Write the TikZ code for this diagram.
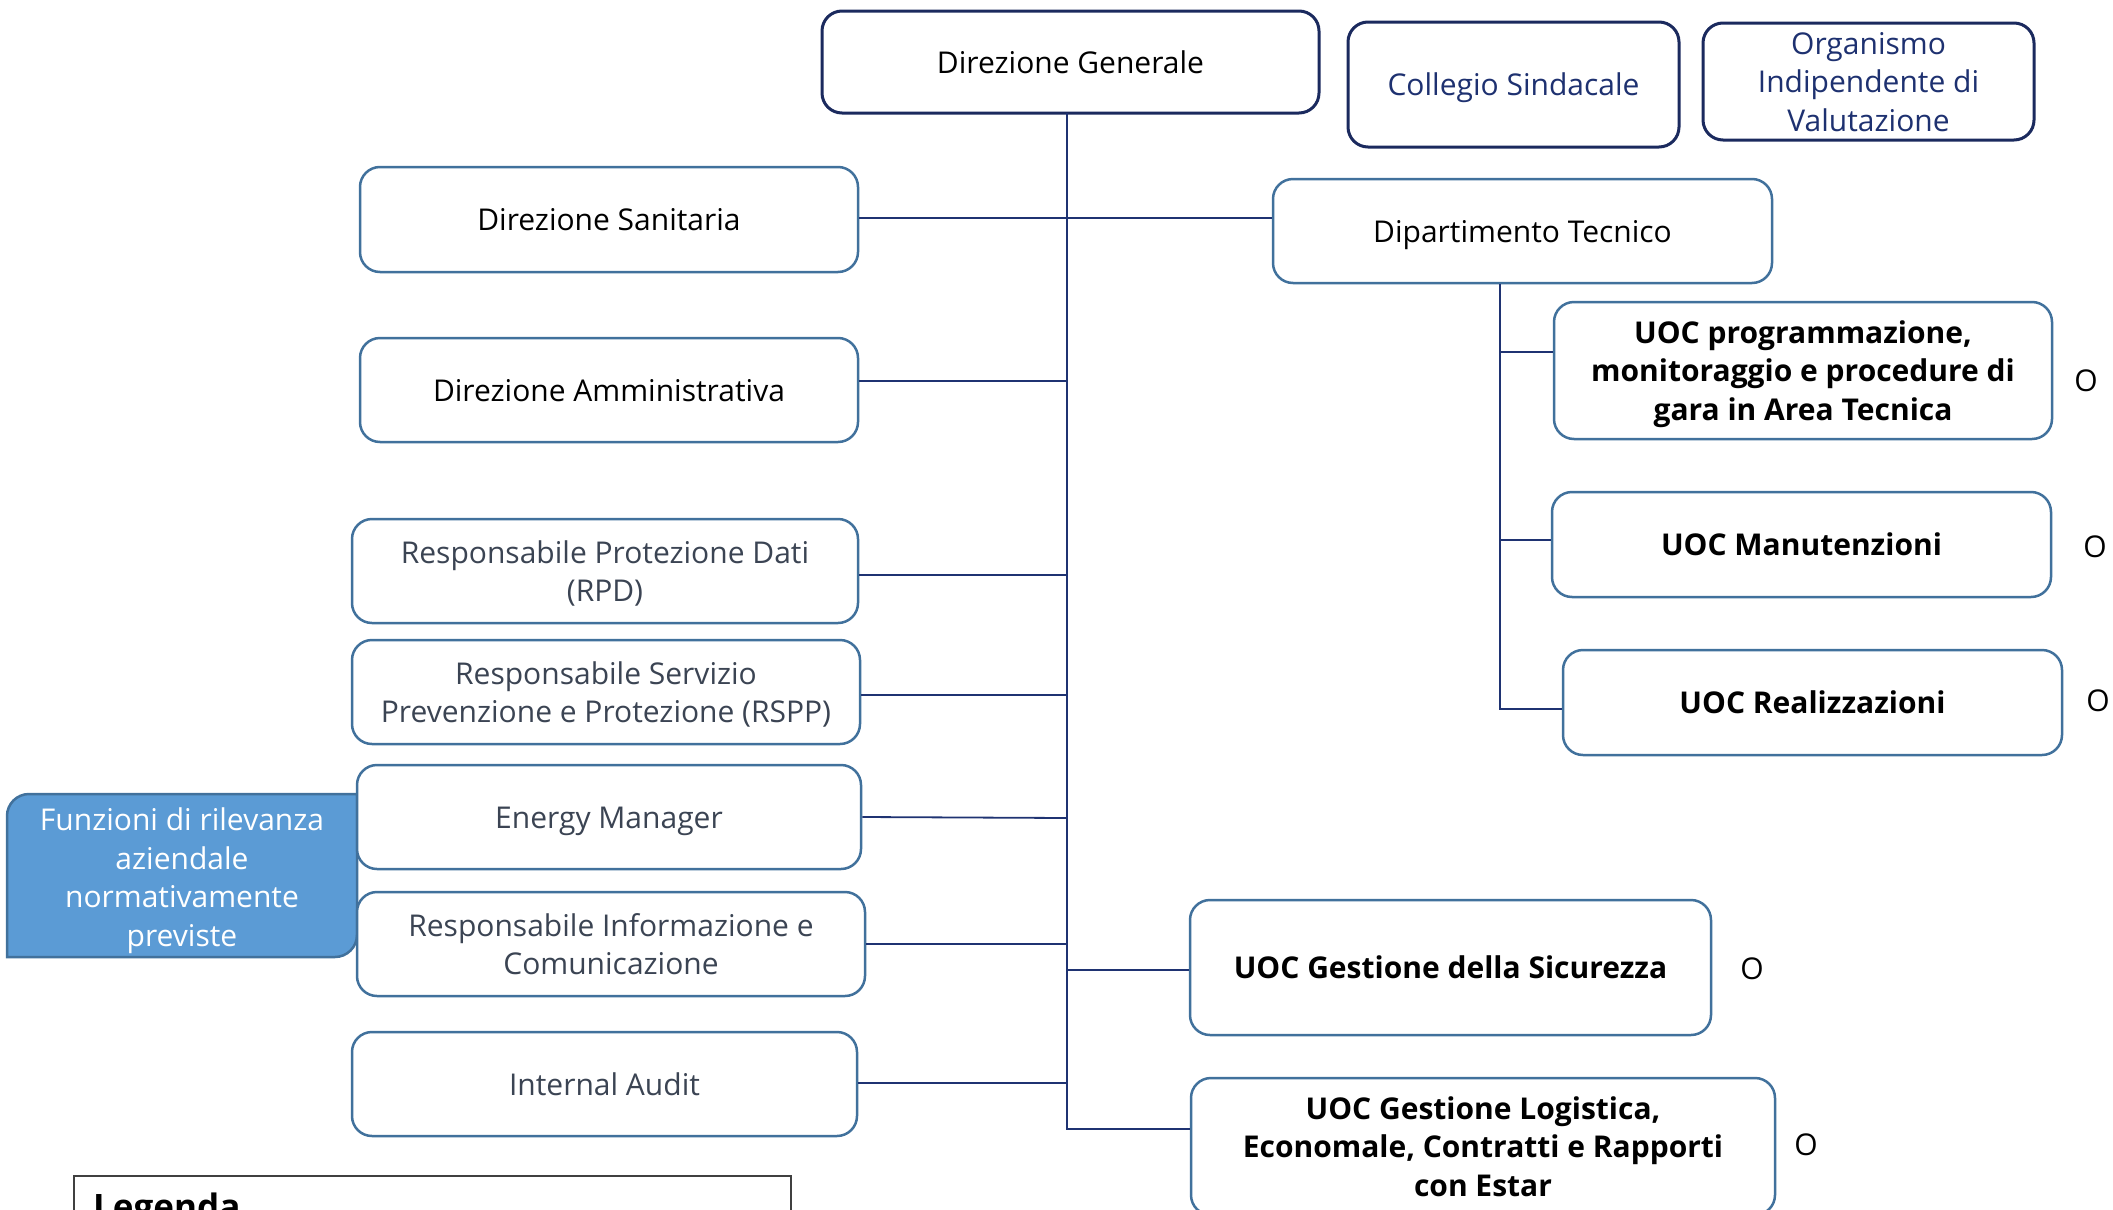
\documentclass[tikz,border=0pt]{standalone}
\usepackage{fontspec}
\setmainfont{Open Sans}
\definecolor{navyb}{HTML}{1B2A5E}
\definecolor{navyt}{HTML}{1E3170}
\definecolor{steel}{HTML}{41719C}
\definecolor{accent}{HTML}{5B9BD5}
\definecolor{slate}{HTML}{3B4453}
\definecolor{conn}{HTML}{1F3372}
\definecolor{leggray}{HTML}{404040}
\begin{document}
\begin{tikzpicture}[x=1pt,y=-1pt,
  base/.style={rectangle, rounded corners=20pt, inner sep=0pt, align=center,
    font=\fontsize{30}{38.5}\selectfont, fill=white, text depth=0pt},
  one/.style={text height=22pt},
  topbox/.style={base, draw=navyb, line width=3pt},
  midbox/.style={base, draw=steel, line width=2.5pt},
  uocbox/.style={midbox, font=\fontsize{30}{38.5}\selectfont\bfseries},
  greytext/.style={text=slate},
  omark/.style={font=\fontsize{30}{38.5}\selectfont, inner sep=0pt},
  link/.style={draw=conn, line width=1.8pt},
]
\useasboundingbox (0,0) rectangle (2113,1210);

% functions box (behind)
\path[fill=accent, draw=steel, line width=2.5pt]
  (7,957) -- (7,816) .. controls (7,803.9) and (16.9,794) .. (29,794)
  -- (357,794) -- (357,935) .. controls (357,947.1) and (347.1,957) .. (335,957) -- cycle;
\node[align=center, text=white, font=\fontsize{30}{38.5}\selectfont, inner sep=0pt, text depth=0pt] (FZ) at (182,877)
  {Funzioni di rilevanza\\aziendale\\normativamente\\previste};

% top
\node[topbox, one, minimum width=497pt, minimum height=102pt] (DG) at (1070.5,62) {Direzione Generale};
\node[topbox, one, text=navyt, minimum width=331pt, minimum height=125pt] (CS) at (1513.5,84.5) {Collegio Sindacale};
\node[topbox, text=navyt, minimum width=331pt, minimum height=117pt] (OIV) at (1868.5,81.5) {Organismo\\Indipendente di\\Valutazione};

% left column
\node[midbox, one, minimum width=498pt, minimum height=105pt] (DS) at (609,219.5) {Direzione Sanitaria};
\node[midbox, one, minimum width=498pt, minimum height=104pt] (DA) at (609,390) {Direzione Amministrativa};
\node[midbox, greytext, minimum width=506pt, minimum height=104pt] (RPD) at (605,571) {Responsabile Protezione Dati\\(RPD)};
\node[midbox, greytext, minimum width=508pt, minimum height=104pt] (RSPP) at (606,692) {Responsabile Servizio\\Prevenzione e Protezione (RSPP)};
\node[midbox, one, greytext, minimum width=504pt, minimum height=104pt] (EM) at (609,817) {Energy Manager};
\node[midbox, greytext, minimum width=508pt, minimum height=104pt] (RIC) at (611,944) {Responsabile Informazione e\\Comunicazione};
\node[midbox, one, greytext, minimum width=505pt, minimum height=104pt] (IA) at (604.5,1084) {Internal Audit};

% right
\node[midbox, one, minimum width=499pt, minimum height=104pt] (DT) at (1522.5,231) {Dipartimento Tecnico};
\node[uocbox, minimum width=498pt, minimum height=137pt] (UP) at (1803,370.5) {UOC programmazione,\\monitoraggio e procedure di\\gara in Area Tecnica};
\node[uocbox, one, minimum width=499pt, minimum height=105pt] (UM) at (1801.5,544.5) {UOC Manutenzioni};
\node[uocbox, one, minimum width=499pt, minimum height=105pt] (UR) at (1812.5,702.5) {UOC Realizzazioni};
\node[uocbox, one, minimum width=521pt, minimum height=135pt] (US) at (1450.5,967.5) {UOC Gestione della Sicurezza};
\node[uocbox, minimum width=584pt, minimum height=137pt] (UL) at (1483,1146.5) {UOC Gestione Logistica,\\Economale, Contratti e Rapporti\\con Estar};

% O marks
\node[omark] (O1) at (2086,381) {O};
\node[omark] (O2) at (2095,547) {O};
\node[omark] (O3) at (2098,701) {O};
\node[omark] (O4) at (1752,969) {O};
\node[omark] (O5) at (1806,1145) {O};

% connectors
\coordinate (sb) at (1067,1129);
\coordinate (sp) at (1067,113);
\draw[link] (sp) -- (sb) -- (sb -| UL.west);
\draw[link] (DS.east |- 0,218) -- (DT.west |- 0,218);
\draw[link] (DA.east |- 0,381) -- (sp |- 0,381);
\draw[link] (RPD.east |- 0,575) -- (sp |- 0,575);
\draw[link] (RSPP.east |- 0,695) -- (sp |- 0,695);
\draw[link] (EM.east |- 0,817) -- (sp |- 0,818);
\draw[link] (RIC.east |- 0,944) -- (sp |- 0,944);
\draw[link] (IA.east |- 0,1083) -- (sp |- 0,1083);
\draw[link] (sp |- 0,970) -- (US.west |- 0,970);

\coordinate (tb) at (1500,709);
\coordinate (b1) at (1500,352);
\coordinate (b2) at (1500,540);
\draw[link] (DT.south -| tb) -- (tb) -- (tb -| UR.west);
\draw[link] (b1) -- (b1 -| UP.west);
\draw[link] (b2) -- (b2 -| UM.west);

% legend
\draw[draw=leggray, line width=1.5pt] (74,1176) rectangle (791,1240);
\node[anchor=base west, inner sep=0pt, font=\fontsize{35}{40}\selectfont\bfseries] (LEG) at (93,1219) {Legenda};
\end{tikzpicture}
\end{document}
